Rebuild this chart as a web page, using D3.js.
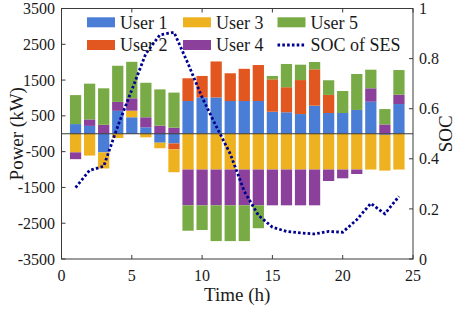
<!DOCTYPE html>
<html lang="en">
<head>
  <meta charset="UTF-8">
  <title>User power and SOC of SES</title>
  <script src="https://d3js.org/d3.v7.min.js"></script>
  <style>
    body {
      margin: 0;
      padding: 0;
      background: #fff;
    }
    svg text {
      font-family: "Liberation Serif", "Times New Roman", serif;
      font-weight: normal;
      fill: #1a1a1a;
    }
  </style>
</head>
<body>
  <div id="chart"></div>

  <script>
    // hourly power of each user (kW), hours 1..24
    const hours = [1, 2, 3, 4, 5, 6, 7, 8, 9, 10, 11, 12, 13, 14, 15, 16, 17, 18, 19, 20, 21, 22, 23, 24];
    const user1 = [270, 220, -520, 640, 460, 180, -250, -270, 915, 1015, 1015, 915, 915, 915, 615, 600, 550, 785, 580, 580, 665, 895, -30, 830];
    const user2 = [0, 0, 0, 0, 0, 0, 0, -165, 635, 600, 1005, 775, 900, 1005, 905, 700, 950, 1015, 505, 0, 0, 0, 0, 0];
    const user3 = [-520, -610, -450, -120, 185, -100, -155, -640, -1000, -1000, -1000, -1000, -1000, -1000, -1000, -1000, -1000, -1000, -1000, -1000, -1000, -1000, -1000, -1000];
    const user4 = [-190, 180, 250, 250, 345, 280, 225, 170, -1000, -1000, -1000, -1000, -1000, -1000, -1000, -1000, -1000, -1000, -320, -245, -125, 375, 260, 260];
    const user5 = [810, 1000, 1020, 1010, 1020, 965, 1015, 980, -710, -690, -1000, -1000, -1000, -640, 95, 650, 430, 205, 410, 615, 1005, 520, 430, 690];
    // state of charge of the shared energy storage
    const soc = [0.285, 0.354, 0.37, 0.53, 0.675, 0.82, 0.895, 0.905, 0.78, 0.645, 0.53, 0.42, 0.27, 0.175, 0.127, 0.11, 0.104, 0.1, 0.11, 0.107, 0.157, 0.222, 0.18, 0.25];

    const userNames = ["User 1", "User 2", "User 3", "User 4", "User 5"];
    const userColors = ["#4a7dd6", "#e2561f", "#eeb11f", "#8b409c", "#78ab45"];
    const xTicks = [0, 5, 10, 15, 20, 25];
    const yTicks = [-3500, -2500, -1500, -500, 500, 1500, 2500, 3500];
    const socTicks = [0, 0.2, 0.4, 0.6, 0.8, 1];

    const width = 457, height = 309;
    const pLeft = 61.5, pRight = 413, pTop = 8.5, pBottom = 259;
    const axisColor = "#3a3a3a";
    const socColor = "#00008f";

    const svg = d3.select("#chart").append("svg")
      .attr("width", width)
      .attr("height", height);

    const x = d3.scaleLinear().domain([0, 25]).range([pLeft, pRight]);
    const y = d3.scaleLinear().domain([-3500, 3500]).range([pBottom, pTop]);
    const ySoc = d3.scaleLinear().domain([0, 1]).range([pBottom, pTop]);

    const table = hours.map((h, i) => ({
      hour: h,
      u1: user1[i], u2: user2[i], u3: user3[i], u4: user4[i], u5: user5[i]
    }));
    const keys = ["u1", "u2", "u3", "u4", "u5"];
    const series = d3.stack().keys(keys).offset(d3.stackOffsetDiverging)(table);

    const barW = (x(1) - x(0)) * 0.8;

    svg.append("g").selectAll("g")
      .data(series)
      .join("g")
      .attr("fill", (d, i) => userColors[i])
      .selectAll("rect")
      .data(d => d)
      .join("rect")
      .attr("x", d => x(d.data.hour) - barW / 2)
      .attr("width", barW)
      .attr("y", d => y(Math.max(d[0], d[1])))
      .attr("height", d => Math.abs(y(d[0]) - y(d[1])));

    // zero baseline
    svg.append("line")
      .attr("x1", pLeft).attr("x2", pRight)
      .attr("y1", y(0)).attr("y2", y(0))
      .attr("stroke", axisColor).attr("stroke-width", 1);

    // SOC line
    const line = d3.line()
      .x((d, i) => x(hours[i]))
      .y(d => ySoc(d));
    svg.append("path")
      .datum(soc)
      .attr("d", line)
      .attr("fill", "none")
      .attr("stroke", socColor)
      .attr("stroke-width", 2.8)
      .attr("stroke-dasharray", "2.6,2.2");

    // frame
    svg.append("rect")
      .attr("x", pLeft).attr("y", pTop)
      .attr("width", pRight - pLeft).attr("height", pBottom - pTop)
      .attr("fill", "none")
      .attr("stroke", axisColor).attr("stroke-width", 1);

    const tickLen = 4;
    const ticks = svg.append("g").attr("stroke", axisColor).attr("stroke-width", 1);
    xTicks.forEach(t => {
      ticks.append("line").attr("x1", x(t)).attr("x2", x(t)).attr("y1", pBottom).attr("y2", pBottom - tickLen);
      ticks.append("line").attr("x1", x(t)).attr("x2", x(t)).attr("y1", pTop).attr("y2", pTop + tickLen);
    });
    yTicks.forEach(t => {
      ticks.append("line").attr("x1", pLeft).attr("x2", pLeft + tickLen).attr("y1", y(t)).attr("y2", y(t));
    });
    socTicks.forEach(t => {
      ticks.append("line").attr("x1", pRight).attr("x2", pRight - tickLen).attr("y1", ySoc(t)).attr("y2", ySoc(t));
    });

    // tick labels
    svg.append("g").selectAll("text")
      .data(xTicks)
      .join("text")
      .attr("x", d => x(d))
      .attr("y", 281)
      .attr("text-anchor", "middle")
      .style("font-size", "16px")
      .text(d => d);

    svg.append("g").selectAll("text")
      .data(yTicks)
      .join("text")
      .attr("x", 55)
      .attr("y", d => y(d))
      .attr("dy", "0.35em")
      .attr("text-anchor", "end")
      .style("font-size", "16px")
      .text(d => d);

    svg.append("g").selectAll("text")
      .data(socTicks)
      .join("text")
      .attr("x", 419)
      .attr("y", d => ySoc(d))
      .attr("dy", "0.35em")
      .attr("text-anchor", "start")
      .style("font-size", "16px")
      .text(d => d);

    // axis titles
    svg.append("text")
      .attr("x", (pLeft + pRight) / 2)
      .attr("y", 301)
      .attr("text-anchor", "middle")
      .style("font-size", "19px")
      .text("Time (h)");

    svg.append("text")
      .attr("transform", `translate(16,${(pTop + pBottom) / 2}) rotate(-90)`)
      .attr("dy", "0.35em")
      .attr("text-anchor", "middle")
      .style("font-size", "19px")
      .text("Power (kW)");

    svg.append("text")
      .attr("transform", `translate(445,${(pTop + pBottom) / 2}) rotate(-90)`)
      .attr("dy", "0.35em")
      .attr("text-anchor", "middle")
      .style("font-size", "19px")
      .text("SOC");

    // legend: two rows, three columns (column-major order)
    const legendItems = userNames.map((n, i) => ({ name: n, color: userColors[i], kind: "bar" }));
    legendItems.push({ name: "SOC of SES", color: socColor, kind: "line" });
    const colX = [87, 183, 277.5];
    const rowY = [22.3, 45];

    const legend = svg.append("g");
    legendItems.forEach((d, i) => {
      const cx = colX[Math.floor(i / 2)];
      const cy = rowY[i % 2];
      if (d.kind === "bar") {
        legend.append("rect")
          .attr("x", cx).attr("y", cy - 5)
          .attr("width", 28).attr("height", 10)
          .attr("fill", d.color);
      } else {
        legend.append("line")
          .attr("x1", cx).attr("x2", cx + 28)
          .attr("y1", cy).attr("y2", cy)
          .attr("stroke", d.color)
          .attr("stroke-width", 2.8)
          .attr("stroke-dasharray", "2.6,2.2");
      }
      legend.append("text")
        .attr("x", cx + 33)
        .attr("y", cy)
        .attr("dy", "0.35em")
        .style("font-size", "18px")
        .text(d.name);
    });
  </script>
</body>
</html>
